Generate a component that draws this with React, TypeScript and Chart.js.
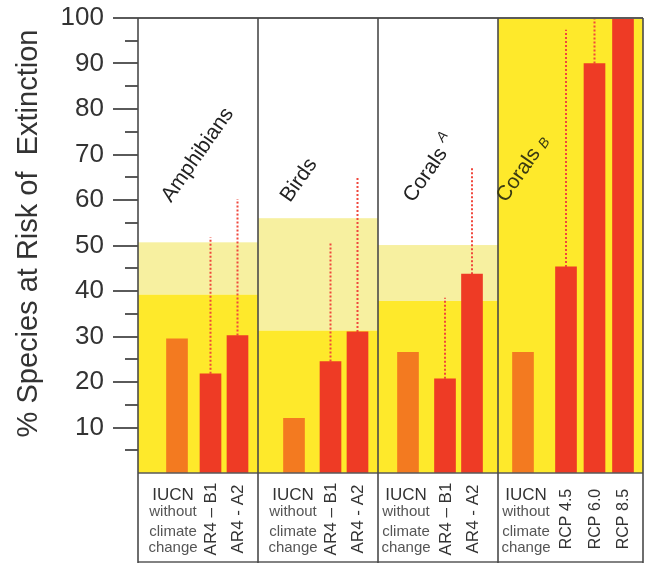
import React, { useEffect, useRef } from "react";
import { Chart, registerables } from "chart.js";

Chart.register(...registerables);

// ---------- data ----------
const panelNames = ["Amphibians", "Birds", "Corals", "Corals"];
const panelSuffix = ["", "", "A", "B"];
const iucnLabel = ["IUCN", "without", "climate", "change"];
const scenarioLabels = [
  ["AR4 – B1", "AR4 - A2"],
  ["AR4 – B1", "AR4 - A2"],
  ["AR4 – B1", "AR4 - A2"],
  ["RCP 4.5", "RCP 6.0", "RCP 8.5"],
];
const iucnValues = [29.5, 12, 26.5, 26.5];
const projectedValues = [
  [21.8, 30.2],
  [24.5, 31],
  [20.7, 43.7],
  [45.3, 90, 100],
];
const projectedUpper = [
  [51.8, 60.2],
  [50.8, 65.1],
  [38.5, 67],
  [97.4, 100, null],
];
const rangeLow = [39.2, 31.3, 37.8, 100];
const rangeHigh = [50.7, 56, 50.1, 100];
const yTickValues = [10, 20, 30, 40, 50, 60, 70, 80, 90, 100];
const yTitle = "% Species at Risk of  Extinction";

// ---------- layout (scale units along x) ----------
const LAYOUT = {
  panelWidths: [120, 120, 120, 145],
  iucnOffset: [39, 36, 30, 25],
  iucnLabelOffset: [35, 35, 28, 28],
  scenarioOffsets: [
    [72.5, 99.5],
    [72.5, 99.5],
    [67, 94],
    [68, 96.5, 125],
  ],
  titleOffset: [33, 32, 35, 8],
};
const panelStarts = LAYOUT.panelWidths.map((_, i) =>
  LAYOUT.panelWidths.slice(0, i).reduce((a, b) => a + b, 0)
);
const xMax = LAYOUT.panelWidths.reduce((a, b) => a + b, 0);

const FONT = "'Liberation Sans', Arial, Helvetica, sans-serif";
const DARK_YELLOW = "#FEE92B";
const LIGHT_YELLOW = "#F7F0A0";
const ORANGE = "#F37A20";
const RED = "#EE3B25";
const DOT_RED = "#F0473C";
const FRAME = "#5a5a5a";

const customPlugin = {
  id: "customDecor",
  beforeDatasetsDraw(chart: any) {
    const { ctx, scales } = chart;
    const x = scales.x;
    const y = scales.y;
    ctx.save();
    panelNames.forEach((_, i) => {
      const x0 = x.getPixelForValue(panelStarts[i]);
      const x1 = x.getPixelForValue(panelStarts[i] + LAYOUT.panelWidths[i]);
      const yHigh = y.getPixelForValue(rangeHigh[i]);
      const yLow = y.getPixelForValue(rangeLow[i]);
      const y0 = y.getPixelForValue(0);
      ctx.fillStyle = LIGHT_YELLOW;
      ctx.fillRect(x0, yHigh, x1 - x0, yLow - yHigh);
      ctx.fillStyle = DARK_YELLOW;
      ctx.fillRect(x0, yLow, x1 - x0, y0 - yLow);
    });
    ctx.restore();
  },
  afterDatasetsDraw(chart: any) {
    const { ctx, scales, chartArea: ca } = chart;
    const x = scales.x;
    const y = scales.y;
    const H = chart.height;
    ctx.save();

    // y ticks (major + minor)
    ctx.strokeStyle = FRAME;
    ctx.lineWidth = 2;
    for (let v = 5; v <= 100; v += 5) {
      const py = Math.round(y.getPixelForValue(v));
      const len = v % 10 === 0 ? 25 : 13;
      ctx.beginPath();
      ctx.moveTo(ca.left - len, py);
      ctx.lineTo(ca.left, py);
      ctx.stroke();
    }

    // top frame line
    ctx.beginPath();
    ctx.moveTo(ca.left - 25, ca.top);
    ctx.lineTo(ca.right, ca.top);
    ctx.stroke();

    // bottom lines
    ctx.lineWidth = 1.5;
    ctx.beginPath();
    ctx.moveTo(ca.left, ca.bottom);
    ctx.lineTo(ca.right, ca.bottom);
    ctx.moveTo(ca.left, H - 1);
    ctx.lineTo(ca.right, H - 1);
    ctx.stroke();

    // panel dividers
    ctx.strokeStyle = "#4a4a4a";
    ctx.lineWidth = 1.6;
    const edges = [...panelStarts, xMax];
    edges.forEach((v) => {
      const px = x.getPixelForValue(v);
      ctx.beginPath();
      ctx.moveTo(px, ca.top);
      ctx.lineTo(px, H);
      ctx.stroke();
    });

    // panel titles
    panelNames.forEach((name, i) => {
      const px = x.getPixelForValue(panelStarts[i] + LAYOUT.titleOffset[i]);
      const py = y.getPixelForValue(59.3);
      ctx.save();
      ctx.translate(px, py);
      ctx.rotate((-55 * Math.PI) / 180);
      ctx.fillStyle = i === 3 ? "#3a3a12" : "#222222";
      ctx.font = `21px ${FONT}`;
      ctx.textAlign = "left";
      ctx.textBaseline = "alphabetic";
      ctx.fillText(name, 0, 0);
      if (panelSuffix[i]) {
        const w = ctx.measureText(name).width;
        ctx.font = `italic 14px ${FONT}`;
        ctx.fillText(panelSuffix[i], w + 6, i === 2 ? -10 : 1);
      }
      ctx.restore();
    });

    // bottom category labels
    panelNames.forEach((_, i) => {
      const cx = x.getPixelForValue(panelStarts[i] + LAYOUT.iucnLabelOffset[i]);
      ctx.textAlign = "center";
      ctx.textBaseline = "alphabetic";
      ctx.fillStyle = "#333333";
      ctx.font = `17px ${FONT}`;
      ctx.fillText(iucnLabel[0], cx, ca.bottom + 27);
      ctx.fillStyle = "#555555";
      ctx.font = `15px ${FONT}`;
      ctx.fillText(iucnLabel[1], cx, ca.bottom + 43);
      ctx.fillText(iucnLabel[2], cx, ca.bottom + 63);
      ctx.fillText(iucnLabel[3], cx, ca.bottom + 79);

      scenarioLabels[i].forEach((lab, j) => {
        const sx = x.getPixelForValue(panelStarts[i] + LAYOUT.scenarioOffsets[i][j]);
        ctx.save();
        ctx.translate(sx, ca.bottom + 46);
        ctx.rotate(-Math.PI / 2);
        ctx.fillStyle = "#333333";
        ctx.font = `${i === 3 ? 16 : 17}px ${FONT}`;
        ctx.textAlign = "center";
        ctx.textBaseline = "middle";
        ctx.fillText(lab, 0, 1);
        ctx.restore();
      });
    });

    // y title
    ctx.save();
    ctx.translate(37, (y.getPixelForValue(0) + y.getPixelForValue(100)) / 2 - 12);
    ctx.rotate(-Math.PI / 2);
    ctx.fillStyle = "#333333";
    ctx.font = `29px ${FONT}`;
    ctx.textAlign = "center";
    ctx.textBaseline = "alphabetic";
    ctx.fillText(yTitle, 0, 0);
    ctx.restore();

    ctx.restore();
  },
};

export default function App() {
  const canvasRef = useRef<HTMLCanvasElement | null>(null);

  useEffect(() => {
    document.body.style.margin = "0";
    const canvas = canvasRef.current;
    if (!canvas) return;

    const iucnData = iucnValues.map((v, i) => ({
      x: panelStarts[i] + LAYOUT.iucnOffset[i],
      y: v,
    }));
    const projData: { x: number; y: number }[] = [];
    const rangeData: { x: number; y: number | null }[] = [];
    projectedValues.forEach((vals, i) => {
      vals.forEach((v, j) => {
        const px = panelStarts[i] + LAYOUT.scenarioOffsets[i][j];
        projData.push({ x: px, y: v });
        const up = projectedUpper[i][j];
        if (up !== null && up !== undefined && up > v) {
          rangeData.push({ x: px, y: v });
          rangeData.push({ x: px, y: up });
          rangeData.push({ x: px, y: null });
        }
      });
    });

    const chart = new Chart(canvas, {
      type: "bar",
      data: {
        datasets: [
          {
            type: "line",
            label: "range",
            data: rangeData as any,
            borderColor: DOT_RED,
            borderWidth: 2,
            borderDash: [2, 2],
            pointRadius: 0,
            fill: false,
            spanGaps: false,
            tension: 0,
            order: 3,
          } as any,
          {
            label: "IUCN without climate change",
            data: iucnData as any,
            backgroundColor: ORANGE,
            barThickness: 21,
            grouped: false,
            order: 2,
          } as any,
          {
            label: "Projected",
            data: projData as any,
            backgroundColor: RED,
            barThickness: 21,
            grouped: false,
            order: 1,
          } as any,
        ],
      },
      options: {
        animation: false,
        responsive: true,
        maintainAspectRatio: false,
        devicePixelRatio: 1,
        layout: { padding: { top: 18, right: 2, left: 0, bottom: 0 } },
        plugins: {
          legend: { display: false },
          tooltip: { enabled: false },
        },
        scales: {
          x: {
            type: "linear",
            min: 0,
            max: xMax,
            offset: false,
            grid: { display: false },
            border: { display: false },
            ticks: { display: false },
            afterFit: (s: any) => {
              s.height = 90;
              s.paddingLeft = 0;
              s.paddingRight = 0;
              s.paddingTop = 0;
              s.paddingBottom = 0;
            },
          },
          y: {
            type: "linear",
            min: 0,
            max: 100,
            grid: { display: false, drawTicks: false },
            border: { display: false },
            afterBuildTicks: (s: any) => {
              s.ticks = [0, ...yTickValues].map((v) => ({ value: v }));
            },
            ticks: {
              padding: 34,
              color: "#333333",
              font: { family: FONT, size: 26 },
              callback: (v: any) => (v === 0 ? "" : String(v)),
            },
            afterFit: (s: any) => {
              s.width = 138;
              s.paddingTop = 0;
              s.paddingBottom = 0;
              s.paddingLeft = 0;
              s.paddingRight = 0;
            },
          },
        },
      },
      plugins: [customPlugin],
    });

    return () => chart.destroy();
  }, []);

  return (
    <div style={{ position: "fixed", left: 0, top: 0, width: 645, height: 563 }}>
      <canvas ref={canvasRef} />
    </div>
  );
}
